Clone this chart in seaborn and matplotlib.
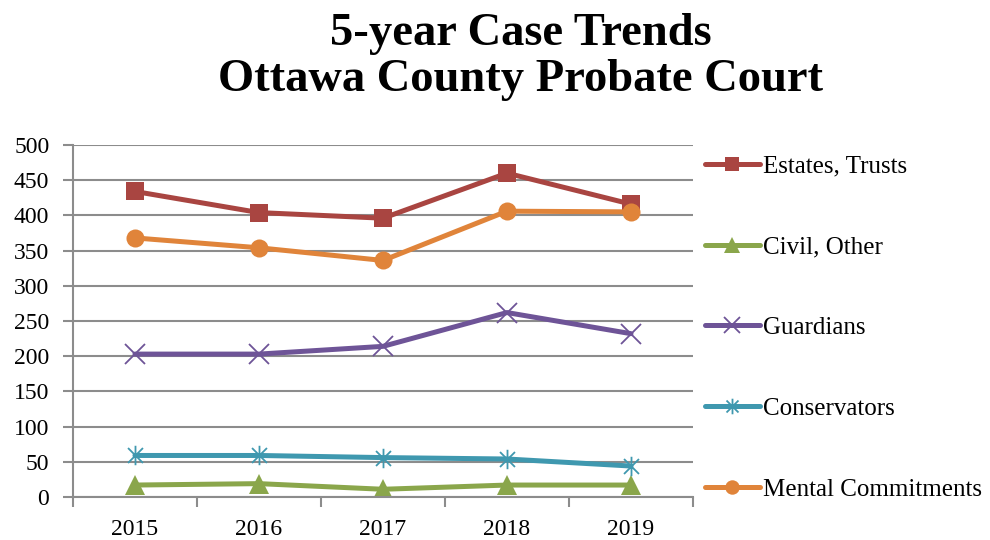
import matplotlib
matplotlib.use('Agg')
import matplotlib.pyplot as plt
import pandas as pd
import seaborn as sns
from matplotlib.path import Path
from matplotlib.ticker import FixedLocator, MultipleLocator

# data
years = ['2015', '2016', '2017', '2018', '2019']
estates = [434, 404, 396, 460, 416]
civil = [17, 19, 11, 17, 17]
guardians = [203, 203, 214, 262, 232]
conservators = [59, 59, 56, 54, 44]
mental = [368, 354, 336, 406, 405]

names = ['Estates, Trusts', 'Civil, Other', 'Guardians', 'Conservators', 'Mental Commitments']
colors = ['#A94541', '#8AA64B', '#6E5497', '#3F98AF', '#E0843A']

# excel style star: an X with a vertical bar through it
star = Path([(-1, -1), (1, 1), (-1, 1), (1, -1), (0, -1.3), (0, 1.3)],
            [Path.MOVETO, Path.LINETO, Path.MOVETO, Path.LINETO, Path.MOVETO, Path.LINETO])
markers = ['s', '^', 'x', star, 'o']

df = pd.DataFrame({'year': years, 'Estates, Trusts': estates, 'Civil, Other': civil,
                   'Guardians': guardians, 'Conservators': conservators,
                   'Mental Commitments': mental})

sns.set_style('white')
plt.rcParams['font.family'] = ['Liberation Serif', 'DejaVu Serif']
plt.rcParams['text.color'] = 'black'
plt.rcParams['xtick.color'] = 'black'
plt.rcParams['ytick.color'] = 'black'

fig = plt.figure(figsize=(9.9, 5.4), dpi=100)
ax = fig.add_axes([0.0737, 0.0796, 0.6263, 0.6519])

for i, (name, c, m) in enumerate(zip(names, colors, markers)):
    thin = i in (2, 3)
    msize = 14 if thin else (14 if m == '^' else 13)
    mew = 1.3 if thin else 0
    sns.lineplot(x='year', y=name, data=df, ax=ax, color=c, marker=m, label=name,
                 linewidth=3.6, markersize=msize, markeredgecolor=c,
                 markeredgewidth=mew, sort=False)

ax.set_xlim(-0.5, 4.5)
ax.set_ylim(0, 500)
ax.yaxis.set_major_locator(MultipleLocator(50))
ax.grid(axis='y', color='#8c8c8c', linewidth=1.5)
ax.set_axisbelow(True)
ax.set_xlabel('')
ax.set_ylabel('')

# tick marks between categories, labels centred
ax.xaxis.set_minor_locator(FixedLocator([-0.5, 0.5, 1.5, 2.5, 3.5, 4.5]))
ax.tick_params(axis='x', which='major', length=0, labelsize=17, pad=16, labelcolor='black')
ax.tick_params(axis='x', which='minor', length=7, width=1.5, color='#8c8c8c', direction='out', bottom=True)
ax.tick_params(axis='y', length=7, width=1.5, color='#8c8c8c', labelsize=17, pad=10,
               left=True, labelcolor='black')

sns.despine(ax=ax, top=True, right=True)
for s in ['left', 'bottom']:
    ax.spines[s].set_color('#8c8c8c')
    ax.spines[s].set_linewidth(1.5)

ax.get_legend().remove()
h, l = ax.get_legend_handles_labels()
fig.legend(h, l, loc='center left', bbox_to_anchor=(0.712, 0.3926), frameon=False,
           fontsize=18, labelspacing=2.33, handlelength=2.2, handletextpad=0.12,
           borderpad=0, borderaxespad=0, labelcolor='black', markerscale=0.8)

fig.text(0.526, 0.9167, '5-year Case Trends', ha='center', va='baseline',
         fontsize=33.5, fontweight='bold', color='black')
fig.text(0.526, 0.8315, 'Ottawa County Probate Court', ha='center', va='baseline',
         fontsize=33.5, fontweight='bold', color='black')

fig.savefig('out.png', dpi=100)
